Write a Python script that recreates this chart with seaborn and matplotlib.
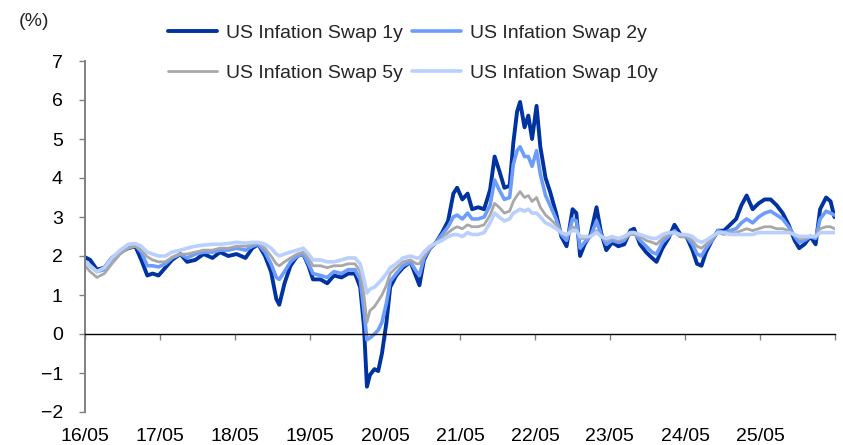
import numpy as np
import pandas as pd
import matplotlib
matplotlib.use("Agg")
import matplotlib.pyplot as plt
import seaborn as sns

# ---- data (decimal year, % level) ----
decimal_years = [
    2016.33, 2016.40, 2016.49, 2016.59, 2016.69, 2016.80, 2016.91, 2017.00, 2017.08, 2017.16,
    2017.23, 2017.31, 2017.40, 2017.49, 2017.60, 2017.69, 2017.80, 2017.91, 2018.03, 2018.13,
    2018.24, 2018.35, 2018.47, 2018.56, 2018.64, 2018.73, 2018.81, 2018.88, 2018.92, 2018.99,
    2019.07, 2019.16, 2019.24, 2019.31, 2019.37, 2019.47, 2019.56, 2019.65, 2019.75, 2019.84,
    2019.93, 2020.00, 2020.05, 2020.09, 2020.13, 2020.19, 2020.24, 2020.29, 2020.35, 2020.40,
    2020.48, 2020.57, 2020.67, 2020.75, 2020.79, 2020.85, 2020.93, 2021.01, 2021.09, 2021.17,
    2021.24, 2021.29, 2021.36, 2021.43, 2021.49, 2021.57, 2021.65, 2021.73, 2021.79, 2021.85,
    2021.92, 2021.99, 2022.04, 2022.09, 2022.13, 2022.19, 2022.24, 2022.29, 2022.35, 2022.40,
    2022.47, 2022.53, 2022.61, 2022.68, 2022.75, 2022.83, 2022.88, 2022.93, 2022.99, 2023.07,
    2023.15, 2023.21, 2023.28, 2023.36, 2023.44, 2023.52, 2023.60, 2023.65, 2023.73, 2023.81,
    2023.89, 2023.95, 2024.03, 2024.11, 2024.19, 2024.27, 2024.35, 2024.43, 2024.49, 2024.55,
    2024.61, 2024.69, 2024.77, 2024.85, 2024.93, 2025.01, 2025.08, 2025.15, 2025.23, 2025.31,
    2025.39, 2025.47, 2025.55, 2025.63, 2025.71, 2025.79, 2025.85, 2025.92, 2026.00, 2026.07,
    2026.13, 2026.21, 2026.27, 2026.32,
]

swap_1y = [
    1.97, 1.90, 1.65, 1.70, 1.95, 2.10, 2.20, 2.25, 1.90, 1.50,
    1.55, 1.50, 1.70, 1.90, 2.05, 1.85, 1.90, 2.05, 1.95, 2.10,
    2.00, 2.05, 1.95, 2.20, 2.30, 2.00, 1.60, 0.90, 0.75, 1.30,
    1.75, 2.00, 2.05, 1.75, 1.40, 1.40, 1.30, 1.50, 1.45, 1.55,
    1.55, 1.20, 0.20, -1.35, -1.05, -0.90, -0.95, -0.50, 0.30, 1.20,
    1.50, 1.70, 1.85, 1.45, 1.25, 1.90, 2.20, 2.35, 2.60, 2.90,
    3.60, 3.75, 3.45, 3.60, 3.20, 3.25, 3.20, 3.70, 4.55, 4.20,
    3.75, 3.80, 4.90, 5.70, 5.95, 5.30, 5.60, 5.00, 5.85, 4.80,
    4.00, 3.65, 3.10, 2.50, 2.25, 3.20, 3.10, 2.00, 2.30, 2.55,
    3.25, 2.60, 2.15, 2.35, 2.25, 2.30, 2.65, 2.70, 2.30, 2.10,
    1.95, 1.85, 2.20, 2.45, 2.80, 2.55, 2.50, 2.15, 1.80, 1.75,
    2.10, 2.40, 2.65, 2.65, 2.80, 2.95, 3.30, 3.55, 3.20, 3.35,
    3.45, 3.45, 3.30, 3.10, 2.80, 2.40, 2.20, 2.30, 2.50, 2.30,
    3.20, 3.50, 3.40, 3.00,
]

swap_2y = [
    1.85, 1.75, 1.60, 1.65, 1.90, 2.10, 2.25, 2.28, 2.10, 1.75,
    1.75, 1.72, 1.80, 1.95, 2.05, 1.95, 2.05, 2.10, 2.10, 2.15,
    2.15, 2.20, 2.15, 2.25, 2.30, 2.10, 1.80, 1.45, 1.40, 1.60,
    1.85, 2.00, 2.05, 1.80, 1.55, 1.50, 1.45, 1.60, 1.55, 1.65,
    1.65, 1.40, 0.60, -0.15, -0.10, 0.00, 0.10, 0.30, 0.80, 1.35,
    1.55, 1.75, 1.85, 1.60, 1.50, 1.95, 2.20, 2.35, 2.55, 2.75,
    3.00, 3.05, 2.95, 3.10, 2.95, 2.95, 3.00, 3.30, 3.95, 3.70,
    3.45, 3.50, 4.35, 4.70, 4.80, 4.55, 4.55, 4.30, 4.70, 4.10,
    3.55, 3.30, 2.95, 2.55, 2.40, 2.95, 2.90, 2.20, 2.35, 2.50,
    2.90, 2.55, 2.30, 2.40, 2.35, 2.40, 2.60, 2.60, 2.40, 2.25,
    2.10, 2.05, 2.35, 2.50, 2.65, 2.50, 2.50, 2.30, 2.05, 2.00,
    2.20, 2.40, 2.65, 2.60, 2.65, 2.70, 2.85, 2.95, 2.85, 3.00,
    3.10, 3.15, 3.05, 2.95, 2.75, 2.50, 2.35, 2.40, 2.50, 2.45,
    2.95, 3.15, 3.10, 3.05,
]

swap_5y = [
    1.75, 1.60, 1.45, 1.55, 1.80, 2.05, 2.20, 2.25, 2.15, 1.98,
    1.90, 1.85, 1.85, 1.97, 2.05, 2.05, 2.10, 2.15, 2.15, 2.20,
    2.20, 2.25, 2.25, 2.30, 2.33, 2.20, 2.00, 1.80, 1.75, 1.85,
    1.95, 2.05, 2.10, 1.95, 1.75, 1.75, 1.70, 1.75, 1.75, 1.80,
    1.80, 1.60, 1.00, 0.30, 0.60, 0.70, 0.85, 1.00, 1.25, 1.55,
    1.70, 1.85, 1.90, 1.80, 1.80, 2.00, 2.20, 2.33, 2.45, 2.60,
    2.70, 2.75, 2.70, 2.80, 2.75, 2.75, 2.80, 3.05, 3.35, 3.25,
    3.10, 3.15, 3.40, 3.55, 3.65, 3.50, 3.55, 3.40, 3.50, 3.25,
    3.05, 2.95, 2.80, 2.60, 2.50, 2.75, 2.70, 2.45, 2.45, 2.50,
    2.65, 2.50, 2.40, 2.45, 2.40, 2.45, 2.55, 2.55, 2.50, 2.40,
    2.35, 2.30, 2.45, 2.55, 2.60, 2.50, 2.50, 2.40, 2.25, 2.20,
    2.30, 2.45, 2.60, 2.55, 2.60, 2.60, 2.65, 2.70, 2.65, 2.70,
    2.75, 2.75, 2.70, 2.70, 2.65, 2.55, 2.45, 2.45, 2.50, 2.50,
    2.70, 2.75, 2.75, 2.70,
]

swap_10y = [
    1.85, 1.75, 1.60, 1.70, 1.95, 2.15, 2.30, 2.32, 2.25, 2.10,
    2.05, 2.00, 2.00, 2.10, 2.15, 2.20, 2.25, 2.28, 2.30, 2.30,
    2.32, 2.35, 2.33, 2.35, 2.35, 2.30, 2.20, 2.05, 2.00, 2.05,
    2.10, 2.15, 2.20, 2.05, 1.90, 1.90, 1.85, 1.85, 1.90, 1.95,
    1.95, 1.80, 1.40, 1.05, 1.15, 1.20, 1.30, 1.40, 1.55, 1.70,
    1.80, 1.95, 2.00, 1.95, 1.95, 2.10, 2.25, 2.33, 2.40, 2.50,
    2.55, 2.55, 2.50, 2.60, 2.55, 2.55, 2.60, 2.85, 3.10, 3.00,
    2.90, 2.95, 3.10, 3.15, 3.20, 3.15, 3.20, 3.10, 3.10, 3.00,
    2.85, 2.80, 2.70, 2.60, 2.55, 2.65, 2.65, 2.50, 2.50, 2.50,
    2.60, 2.50, 2.45, 2.50, 2.45, 2.50, 2.60, 2.60, 2.55, 2.50,
    2.45, 2.45, 2.55, 2.60, 2.60, 2.55, 2.55, 2.50, 2.40, 2.35,
    2.40, 2.50, 2.60, 2.60, 2.55, 2.55, 2.55, 2.55, 2.55, 2.60,
    2.60, 2.60, 2.60, 2.60, 2.60, 2.55, 2.50, 2.50, 2.50, 2.50,
    2.60, 2.60, 2.60, 2.60,
]

series_names = ["US Infation Swap 1y", "US Infation Swap 2y",
                "US Infation Swap 5y", "US Infation Swap 10y"]
series_values = [swap_1y, swap_2y, swap_5y, swap_10y]
series_colors = ["#0033A0", "#6E9CFA", "#A8A8A8", "#B9D0FF"]
series_widths = [2.8, 2.6, 2.0, 2.6]


def decimal_to_date(y):
    year = int(y)
    return pd.Timestamp(year=year, month=1, day=1) + pd.Timedelta(days=(y - year) * 365.25)


dates = [decimal_to_date(y) for y in decimal_years]
frames = []
for name, vals in zip(series_names, series_values):
    frames.append(pd.DataFrame({"date": dates, "value": vals, "series": name}))
df = pd.concat(frames, ignore_index=True)

# ---- style ----
sns.set_theme(style="white")
plt.rcParams["font.family"] = ["Liberation Sans Narrow", "Liberation Sans", "DejaVu Sans"]
plt.rcParams["axes.unicode_minus"] = True

fig = plt.figure(figsize=(8.43, 4.45), dpi=100)
ax = fig.add_axes([85 / 843, 33 / 445, 750 / 843, 351 / 445])

lines = {}
for name, color, lw in zip(series_names, series_colors, series_widths):
    sub = df[df["series"] == name]
    sns.lineplot(data=sub, x="date", y="value", ax=ax, color=color, lw=lw, label=name)
    lines[name] = ax.get_lines()[-1]

ax.set_ylim(-2, 7)
ax.set_yticks(range(-2, 8))
ax.set_xlim(pd.Timestamp(2016, 5, 1), pd.Timestamp(2026, 5, 1))
xticks = [pd.Timestamp(y, 5, 1) for y in range(2016, 2027)]
ax.set_xticks(xticks)
ax.set_xticklabels([t.strftime("%y/%m") for t in xticks[:-1]] + [""])
ax.set_xlabel("")
ax.set_ylabel("")

for side in ["top", "right"]:
    ax.spines[side].set_visible(False)
ax.spines["left"].set_color("#808080")
ax.spines["left"].set_linewidth(1.4)
ax.spines["bottom"].set_position(("data", 0))
ax.spines["bottom"].set_color("black")
ax.spines["bottom"].set_linewidth(1.0)

ax.tick_params(axis="y", direction="out", length=4, width=1, color="#808080",
               pad=12, labelsize=14, labelcolor="black", left=True)
ax.tick_params(axis="x", direction="out", length=4, width=1, color="#808080",
               pad=64, labelsize=14, labelcolor="black", bottom=True)

fig.text(19 / 843, 1 - 21 / 445, "(%)", fontsize=14, va="center", ha="left")

order = [series_names[0], series_names[2], series_names[1], series_names[3]]
ax.legend([lines[n] for n in order], order, ncol=2, frameon=False, fontsize=14,
          loc="upper left", bbox_to_anchor=(168 / 843, 1 - 24 / 445),
          bbox_transform=fig.transFigure, borderpad=0, borderaxespad=0,
          handlelength=2.5, handletextpad=0.5, columnspacing=0.45, labelspacing=1.15)

fig.savefig("out.png", dpi=100)
